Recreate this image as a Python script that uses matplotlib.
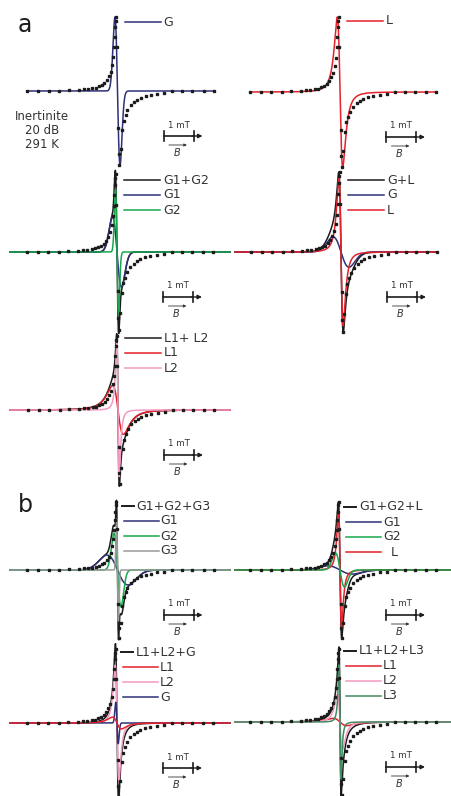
import numpy as np
import matplotlib.pyplot as plt

# measured EPR spectrum (field offset from centre in mT, normalised derivative signal)
exp_field = [-3.01, -2.65, -2.29, -1.95, -1.62, -1.29, -1.12, -0.99, -0.84, -0.73,
             -0.62, -0.53, -0.45, -0.36, -0.29, -0.23, -0.17, -0.14, -0.11, -0.09,
             -0.07, -0.06, -0.045, -0.02, 0.02, 0.04, 0.06, 0.10, 0.16, 0.21,
             0.27, 0.33, 0.44, 0.55, 0.66, 0.77, 0.94, 1.10, 1.33, 1.55,
             1.83, 2.16, 2.49, 2.88, 3.21]
exp_signal = [0.0, 0.0, 0.0, 0.005, 0.009, 0.018, 0.023, 0.027, 0.036, 0.045,
              0.063, 0.081, 0.108, 0.144, 0.198, 0.257, 0.347, 0.459, 0.595, 0.73,
              0.86, 0.95, 1.0, 0.6, -0.5, -0.85, -1.0, -0.78, -0.53, -0.40,
              -0.33, -0.26, -0.195, -0.15, -0.117, -0.09, -0.068, -0.054, -0.036, -0.023,
              -0.005, 0.0, 0.0, 0.0, 0.0]

# fitted components: (name, shape, peak-to-peak width in mT, amplitude)
fit_a1 = [("G", "gauss", 0.17, 1.00)]
fit_a2 = [("L", "lorentz", 0.18, 1.00)]
fit_a3 = [("G1", "gauss", 0.30, 0.45), ("G2", "gauss", 0.10, 0.80)]
fit_a4 = [("G", "gauss", 0.53, 0.19), ("L", "lorentz", 0.14, 0.92)]
fit_a5 = [("L1", "lorentz", 0.36, 0.33), ("L2", "lorentz", 0.08, 0.90)]
fit_b1 = [("G1", "gauss", 0.70, 0.22), ("G2", "gauss", 0.23, 0.54), ("G3", "gauss", 0.06, 0.75)]
fit_b2 = [("G1", "gauss", 0.80, 0.06), ("G2", "gauss", 0.30, 0.25), ("L", "lorentz", 0.10, 0.85)]
fit_b3 = [("L1", "lorentz", 0.30, 0.08), ("L2", "lorentz", 0.12, 0.78), ("G", "gauss", 0.08, 0.28)]
fit_b4 = [("L1", "lorentz", 0.45, 0.05), ("L2", "lorentz", 0.17, 0.38), ("L3", "lorentz", 0.06, 0.78)]

sum_labels = ["", "", "G1+G2", "G+L", "L1+ L2", "G1+G2+G3", "G1+G2+L", "L1+L2+G", "L1+L2+L3"]
legend_names = {"b2": ["G1", "G2", "  L"]}

# ---- styling / layout ----
W, H = 451, 796
PX = 30.0  # pixels per mT
colors = {"G": "#2e3078", "G1": "#2e3078", "G2": "#17a84b", "G3": "#9a9a9a",
          "L": "#e4222b", "L1": "#e4222b", "L2": "#f29ac0", "L3": "#3f8c62"}
black = "#1c1c1c"
txt = "#333333"

# (centre x, baseline y, px per unit, left x, right x, legend first y, b-style legend)
layout = [
    ("a1", fit_a1, (117.5, 91, 74, 27, 214, -69, False)),
    ("a2", fit_a2, (340, 92, 75, 250, 437, -71, False)),
    ("a3", fit_a3, (117, 252, 78, 10, 230, -72, False)),
    ("a4", fit_a4, (341, 252, 80, 235, 437, -72, False)),
    ("a5", fit_a5, (118, 410, 74, 10, 230, -72, False)),
    ("b1", fit_b1, (117.5, 570, 68, 10, 230, -64, True)),
    ("b2", fit_b2, (340, 570, 68, 235, 451, -63, True)),
    ("b3", fit_b3, (117, 723, 74, 10, 230, -71, True)),
    ("b4", fit_b4, (340, 722, 73, 235, 451, -71, True)),
]
draw_order = {"b2": [0, 2, 1], "b3": [1, 2, 0]}


def lineshape(shape, x, w, a):
    u = x / (w / 2)
    if shape == "gauss":
        return -a * u * np.exp(0.5 - u ** 2 / 2)
    return -a * 16 / 9 * u / (1 + u ** 2 / 3) ** 2


fig = plt.figure(figsize=(W / 100, H / 100), dpi=100)

for k, (key, fit, (cx, base, amp, xl, xr, ly0, bstyle)) in enumerate(layout):
    ax = fig.add_axes([xl / W, 1 - (base + 1.3 * amp) / H, (xr - xl) / W, 2.6 * amp / H])
    x0, x1 = (xl - cx) / PX, (xr - cx) / PX
    ax.set_xlim(x0, x1)
    ax.set_ylim(-1.3, 1.3)
    ax.axis("off")

    x = np.linspace(x0, x1, 8000)
    curves = [lineshape(s, x, w, a) for (_, s, w, a) in fit]
    if len(fit) > 1:
        ax.plot(x, np.sum(curves, axis=0), color=black, lw=1.1, clip_on=False)
    for i in draw_order.get(key, range(len(fit))):
        ax.plot(x, curves[i], color=colors[fit[i][0]], lw=1.1, clip_on=False)
    ax.plot(exp_field, exp_signal, "s", ms=1.7, color=black, zorder=5, clip_on=False)

    # legend
    names = legend_names.get(key, [c[0] for c in fit])
    entries = [(c[0], n) for c, n in zip(fit, names)]
    ys = [ly0 + 15 * i for i in range(len(fit) + (1 if len(fit) > 1 else 0))]
    row = 0
    if len(fit) > 1:
        if bstyle:
            ax.plot([4 / PX, 16 / PX], [-ys[0] / amp] * 2, color=black, lw=1.4, clip_on=False)
            ax.text(19 / PX, -ys[0] / amp, sum_labels[k], fontsize=9, color=txt, va="center")
        else:
            ax.plot([7 / PX, 43 / PX], [-ys[0] / amp] * 2, color=black, lw=1.1, clip_on=False)
            ax.text(46 / PX, -ys[0] / amp, sum_labels[k], fontsize=9, color=txt, va="center")
        row = 1
    for cname, label in entries:
        yy = -ys[row] / amp
        if bstyle:
            ax.plot([6 / PX, 41 / PX], [yy, yy], color=colors[cname], lw=1.1, clip_on=False)
            ax.text(43 / PX, yy, label, fontsize=9, color=txt, va="center")
        else:
            ax.plot([7 / PX, 43 / PX], [yy, yy], color=colors[cname], lw=1.1, clip_on=False)
            ax.text(46 / PX, yy, label, fontsize=9, color=txt, va="center")
        row += 1

    # 1 mT scale bar with field direction
    sx = 46 / PX
    yb = -45 / amp
    tk = 5 / amp
    ax.plot([sx, sx + 1], [yb, yb], color=black, lw=1.2, clip_on=False)
    ax.plot([sx, sx], [yb - tk, yb + tk], color=black, lw=1.2, clip_on=False)
    ax.plot([sx + 1, sx + 1], [yb - tk, yb + tk], color=black, lw=1.2, clip_on=False)
    ax.annotate("", xy=(sx + 1.3, yb), xytext=(sx + 0.95, yb),
                arrowprops=dict(arrowstyle="-|>", lw=1.0, color=black,
                                mutation_scale=6, shrinkA=0, shrinkB=0))
    ax.text(sx + 0.5, yb + 11 / amp, "1 mT", fontsize=6.3, color=txt,
            ha="center", va="center")
    ax.annotate("", xy=(sx + 0.78, yb - 9 / amp), xytext=(sx + 0.18, yb - 9 / amp),
                arrowprops=dict(arrowstyle="-|>", lw=0.6, color=txt,
                                mutation_scale=4, shrinkA=0, shrinkB=0))
    ax.text(sx + 0.45, yb - 17 / amp, "B", fontsize=7, style="italic", color=txt,
            ha="center", va="center")

fig.text(25 / W, 1 - 25 / H, "a", fontsize=17, color=black, ha="center", va="center")
fig.text(25 / W, 1 - 505 / H, "b", fontsize=17, color=black, ha="center", va="center")
for i, line in enumerate(["Inertinite", "20 dB", "291 K"]):
    fig.text(42 / W, 1 - (117 + 14 * i) / H, line, fontsize=8.5, color=txt,
             ha="center", va="center")

fig.savefig("out.png", dpi=100)
